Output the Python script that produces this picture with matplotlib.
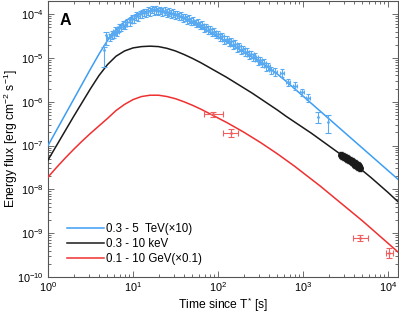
import numpy as np
import matplotlib
matplotlib.use("Agg")
import matplotlib.pyplot as plt
from matplotlib.ticker import LogLocator, LogFormatterMathtext, NullFormatter

plt.rcParams['font.family'] = ['Liberation Sans', 'DejaVu Sans']
plt.rcParams['mathtext.default'] = 'regular'

# ---- model curves: log10(time) and log10(flux) ----
model_log_t = [0.0, 0.1, 0.2, 0.3, 0.4, 0.5, 0.6, 0.7, 0.8, 0.9, 1.0, 1.1, 1.2, 1.3,
               1.4, 1.5, 1.6, 1.7, 1.8, 1.9, 2.0, 2.1, 2.2, 2.3, 2.4, 2.5, 2.6, 2.7,
               2.8, 2.9, 3.0, 3.1, 3.2, 3.3, 3.4, 3.5, 3.6, 3.7, 3.8, 3.9, 4.0, 4.1, 4.117]
tev_model_log = [-7.00, -6.65, -6.30, -5.95, -5.60, -5.25, -4.91, -4.60, -4.36, -4.17,
                 -4.04, -3.96, -3.925, -3.925, -3.96, -4.02, -4.10, -4.20, -4.30, -4.41,
                 -4.52, -4.63, -4.745, -4.86, -4.98, -5.10, -5.23, -5.37, -5.53, -5.70,
                 -5.87, -6.04, -6.21, -6.38, -6.55, -6.72, -6.89, -7.06, -7.23, -7.40,
                 -7.57, -7.74, -7.77]
kev_model_log = [-7.33, -7.00, -6.67, -6.34, -6.02, -5.70, -5.40, -5.15, -4.96, -4.84,
                 -4.77, -4.74, -4.73, -4.74, -4.78, -4.84, -4.92, -5.01, -5.11, -5.22,
                 -5.33, -5.44, -5.56, -5.68, -5.80, -5.93, -6.06, -6.19, -6.33, -6.46,
                 -6.59, -6.72, -6.86, -7.00, -7.14, -7.28, -7.42, -7.57, -7.73, -7.90,
                 -8.07, -8.25, -8.28]
gev_model_log = [-7.72, -7.50, -7.29, -7.09, -6.90, -6.72, -6.55, -6.38, -6.20, -6.06,
                 -5.95, -5.88, -5.85, -5.85, -5.88, -5.93, -6.00, -6.08, -6.17, -6.27,
                 -6.37, -6.47, -6.58, -6.69, -6.81, -6.93, -7.06, -7.19, -7.33, -7.47,
                 -7.62, -7.77, -7.92, -8.08, -8.24, -8.40, -8.56, -8.72, -8.89, -9.06,
                 -9.23, -9.40, -9.43]

# ---- TeV data (x10) ----
tev_t = [5.3, 5.6, 5.9, 6.2, 6.5, 6.9, 7.3, 7.7, 8.1, 8.6, 9.1, 9.6, 10.2, 10.8,
         11.4, 12.0, 12.7, 13.4, 14.2, 15.0, 15.9, 16.8, 17.8, 18.8, 19.9, 21.0, 22.2,
         23.5, 24.9, 26.3, 27.8, 29.4, 31.1, 32.9, 34.8, 36.8, 38.9, 41.1, 43.5, 46.0,
         48.6, 51.4, 54.4, 57.5, 60.8, 64.3, 68.0, 71.9, 76.0, 80.4, 85.0, 89.9, 95.0,
         100.5, 106, 112, 119, 126, 133, 141, 149, 158, 167, 176, 186, 197, 209, 221,
         233, 247, 261, 276, 292, 309, 327, 345, 365, 386, 420, 470, 564, 670, 805,
         970, 1140]
tev_f = [3.0e-5, 3.4e-5, 3.5e-5, 4.2e-5, 4.0e-5, 4.9e-5, 5.1e-5, 5.8e-5, 5.6e-5,
         6.6e-5, 6.8e-5, 7.9e-5, 8.0e-5, 9.2e-5, 8.9e-5, 1.0e-4, 1.04e-4, 1.12e-4,
         1.08e-4, 1.2e-4, 1.16e-4, 1.3e-4, 1.22e-4, 1.28e-4, 1.18e-4, 1.24e-4, 1.14e-4,
         1.2e-4, 1.1e-4, 1.14e-4, 1.03e-4, 1.08e-4, 9.6e-5, 1.0e-4, 9.0e-5, 9.3e-5,
         8.2e-5, 8.6e-5, 7.6e-5, 7.8e-5, 7.0e-5, 7.1e-5, 6.3e-5, 6.4e-5, 5.6e-5, 5.7e-5,
         5.0e-5, 5.1e-5, 4.4e-5, 4.5e-5, 3.9e-5, 4.0e-5, 3.5e-5, 3.5e-5, 3.0e-5, 3.1e-5,
         2.6e-5, 2.7e-5, 2.3e-5, 2.4e-5, 2.0e-5, 2.1e-5, 1.75e-5, 1.85e-5, 1.55e-5,
         1.6e-5, 1.4e-5, 1.38e-5, 1.2e-5, 1.22e-5, 1.05e-5, 1.06e-5, 8.8e-6, 9.0e-6,
         7.6e-6, 7.7e-6, 6.4e-6, 6.5e-6, 5.3e-6, 4.9e-6, 4.6e-6, 2.8e-6, 2.3e-6,
         1.66e-6, 1.23e-6]
tev_yerr_frac = 0.2
tev_xerr_frac = 0.06
# sparse TeV points with asymmetric errors
tev_sparse_t = [4.6, 4.8, 1500, 1970]
tev_sparse_f = [1.5e-5, 3.4e-5, 4.5e-7, 3.5e-7]
tev_sparse_lo = [6.2e-6, 2.0e-5, 3.3e-7, 1.95e-7]
tev_sparse_hi = [1.8e-5, 3.9e-5, 5.9e-7, 5.0e-7]

# ---- keV data ----
kev_t = [2800, 2880, 2950, 3020, 3100, 3170, 3250, 3320, 3400, 3480, 3560, 3640,
         3720, 3800, 3880, 3960, 4040, 4120, 4200, 4290, 4380, 4470, 4560, 4650]
kev_f = [6.1e-8, 5.7e-8, 5.9e-8, 5.4e-8, 5.6e-8, 5.1e-8, 5.3e-8, 4.9e-8, 5.0e-8,
         4.6e-8, 4.8e-8, 4.4e-8, 4.5e-8, 4.2e-8, 4.3e-8, 3.9e-8, 4.1e-8, 3.7e-8,
         3.8e-8, 3.5e-8, 3.6e-8, 3.3e-8, 3.4e-8, 3.1e-8]
kev_yerr_frac = 0.15

# ---- GeV data (x0.1) ----
gev_t = [88, 142, 4690, 10300]
gev_f = [5.2e-7, 1.95e-7, 7.8e-10, 3.55e-10]
gev_tlo = [68, 115, 3840, 9500]
gev_thi = [115, 172, 5780, 11400]
gev_flo = [4.6e-7, 1.6e-7, 6.7e-10, 2.75e-10]
gev_fhi = [5.9e-7, 2.4e-7, 9.1e-10, 4.6e-10]

labels = ['0.3 - 5  TeV(\u00d710)', '0.3 - 10 keV', '0.1 - 10 GeV(\u00d70.1)']

c_blue = '#3d9df5'
c_blue_d = '#5aaaf2'
c_black = '#1a1a1a'
c_red = '#f03030'
c_red_d = '#f06060'

fig = plt.figure(figsize=(3.99, 3.14), dpi=100)
ax = fig.add_axes([48/399, 37/314, 350/399, 276/314])

mt = 10.0 ** np.array(model_log_t)
l1, = ax.plot(mt, 10.0 ** np.array(tev_model_log), color=c_blue, lw=1.1, zorder=3)
l2, = ax.plot(mt, 10.0 ** np.array(kev_model_log), color=c_black, lw=1.1, zorder=3)
l3, = ax.plot(mt, 10.0 ** np.array(gev_model_log), color=c_red, lw=1.1, zorder=3)

tt = np.array(tev_t); tf = np.array(tev_f)
ax.errorbar(tt, tf, yerr=tf*tev_yerr_frac, xerr=tt*tev_xerr_frac, fmt='.', ms=2,
            color=c_blue_d, elinewidth=0.8, capsize=1.5, capthick=0.8, zorder=4)
st = np.array(tev_sparse_t); sf = np.array(tev_sparse_f)
ax.errorbar(st, sf, yerr=[sf - np.array(tev_sparse_lo), np.array(tev_sparse_hi) - sf],
            fmt='.', ms=2, color=c_blue_d, elinewidth=0.8, capsize=2, capthick=0.8, zorder=4)

kt = np.array(kev_t); kf = np.array(kev_f)
ax.errorbar(kt, kf, yerr=kf*kev_yerr_frac, fmt='o', ms=4, color=c_black,
            elinewidth=1.0, capsize=1.5, zorder=5)

gt = np.array(gev_t); gf = np.array(gev_f)
ax.errorbar(gt, gf, xerr=[gt - np.array(gev_tlo), np.array(gev_thi) - gt],
            yerr=[gf - np.array(gev_flo), np.array(gev_fhi) - gf],
            fmt='.', ms=2, color=c_red_d, elinewidth=0.8, capsize=2, capthick=0.8, zorder=4)

ax.set_xscale('log')
ax.set_yscale('log')
ax.set_xlim(1, 1.31e4)
ax.set_ylim(1e-10, 2e-4)

ax.xaxis.set_major_locator(LogLocator(base=10, numticks=10))
ax.yaxis.set_major_locator(LogLocator(base=10, numticks=10))
ax.xaxis.set_minor_locator(LogLocator(base=10, subs=np.arange(2, 10), numticks=10))
ax.yaxis.set_minor_locator(LogLocator(base=10, subs=np.arange(2, 10), numticks=10))
ax.xaxis.set_major_formatter(LogFormatterMathtext())
ax.yaxis.set_major_formatter(LogFormatterMathtext())
ax.xaxis.set_minor_formatter(NullFormatter())
ax.yaxis.set_minor_formatter(NullFormatter())
ax.tick_params(which='both', direction='in', top=True, right=True, labelsize=7.8,
               color='#555555', width=0.6)
ax.tick_params(which='major', length=4, pad=3)
ax.tick_params(axis='x', which='major', pad=2.5)
ax.tick_params(which='minor', length=2)
for s in ax.spines.values():
    s.set_color('#555555')
    s.set_linewidth(0.8)

ax.set_xlabel('Time since T$^{*}$ [s]', fontsize=8.7, va='center')
ax.xaxis.set_label_coords(0.5, -0.1)
ax.set_ylabel('Energy flux [erg cm$^{-2}$ s$^{-1}$]', fontsize=8.7, va='center')
ax.yaxis.set_label_coords(-0.106, 0.5)

ax.text(0.034, 0.931, 'A', transform=ax.transAxes, fontsize=11.5, fontweight='bold',
        va='center', ha='left')

ax.legend([l1, l2, l3], labels, loc='lower left', bbox_to_anchor=(0.055, 0.045),
          frameon=False, fontsize=8.3, handlelength=3.2, handletextpad=0.2,
          labelspacing=0.25, borderpad=0, borderaxespad=0)

fig.savefig('out.png', dpi=100)
